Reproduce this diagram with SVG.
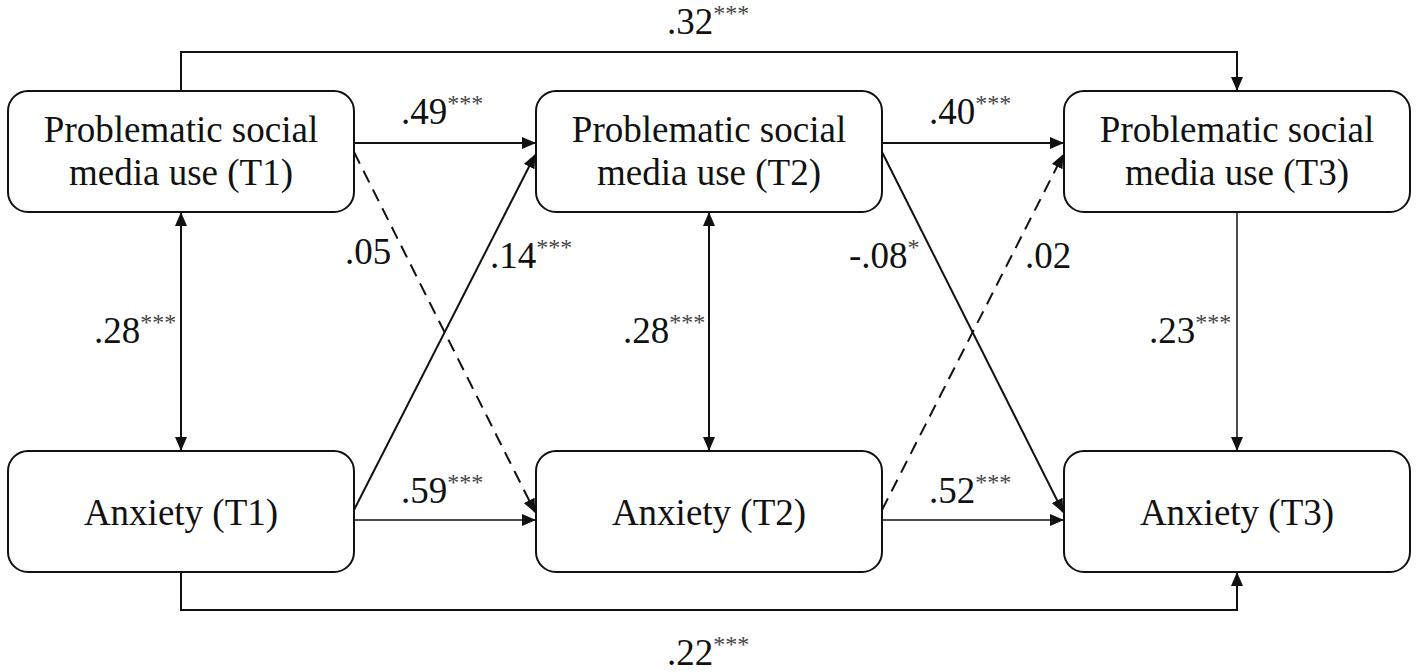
<svg xmlns="http://www.w3.org/2000/svg" width="1418" height="672" viewBox="0 0 1418 672">
<style>
.box{fill:#fff;stroke:#111;stroke-width:2}
.t{font-family:"Liberation Serif","Times New Roman",serif;font-size:37px;fill:#111;text-anchor:middle}
.l{font-family:"Liberation Serif","Times New Roman",serif;font-size:37px;fill:#111}
.s{font-size:24px;fill:#444}
.c{fill:none;stroke:#111;stroke-width:2}
.thin{stroke-width:1.5}
.d{stroke-dasharray:13 8}
</style>
<defs>
<marker id="ah" markerUnits="userSpaceOnUse" markerWidth="14" markerHeight="12" refX="13" refY="6" orient="auto-start-reverse" viewBox="0 0 14 12">
<path d="M0,0 L14,6 L0,12 Z" fill="#111"/>
</marker>
</defs>
<rect width="1418" height="672" fill="#fff"/>
<g id="connectors">
<path class="c" d="M181,91 V52 H1237 V90" marker-end="url(#ah)"/>
<path class="c" d="M181,572 V610 H1237 V573" marker-end="url(#ah)"/>
<line class="c" x1="181" y1="213" x2="181" y2="450" marker-start="url(#ah)" marker-end="url(#ah)"/>
<line class="c" x1="709" y1="213" x2="709" y2="450" marker-start="url(#ah)" marker-end="url(#ah)"/>
<line class="c thin" x1="1237" y1="212" x2="1237" y2="450" marker-end="url(#ah)"/>
<line class="c" x1="354" y1="143" x2="535" y2="143" marker-end="url(#ah)"/>
<line class="c" x1="882" y1="143" x2="1063" y2="143" marker-end="url(#ah)"/>
<line class="c thin" x1="354" y1="520" x2="535" y2="520" marker-end="url(#ah)"/>
<line class="c thin" x1="882" y1="520" x2="1063" y2="520" marker-end="url(#ah)"/>
<line class="c d" x1="354" y1="152" x2="535" y2="512" marker-end="url(#ah)"/>
<line class="c" x1="354" y1="510" x2="535" y2="155" marker-end="url(#ah)"/>
<line class="c" x1="882" y1="152" x2="1063" y2="512" marker-end="url(#ah)"/>
<line class="c d" x1="882" y1="510" x2="1063" y2="155" marker-end="url(#ah)"/>
</g>
<g id="labels">
<text class="l" x="667" y="34">.32<tspan class="s" dy="-13">***</tspan></text>
<text class="l" x="667" y="665">.22<tspan class="s" dy="-13">***</tspan></text>
<text class="l" x="401" y="124">.49<tspan class="s" dy="-13">***</tspan></text>
<text class="l" x="929" y="124">.40<tspan class="s" dy="-13">***</tspan></text>
<text class="l" x="401" y="503">.59<tspan class="s" dy="-13">***</tspan></text>
<text class="l" x="929" y="503">.52<tspan class="s" dy="-13">***</tspan></text>
<text class="l" x="94" y="343">.28<tspan class="s" dy="-13">***</tspan></text>
<text class="l" x="623" y="343">.28<tspan class="s" dy="-13">***</tspan></text>
<text class="l" x="1149" y="343">.23<tspan class="s" dy="-13">***</tspan></text>
<text class="l" x="345" y="264">.05</text>
<text class="l" x="490" y="268">.14<tspan class="s" dy="-13">***</tspan></text>
<text class="l" x="849" y="268">-.08<tspan class="s" dy="-13">*</tspan></text>
<text class="l" x="1025" y="268">.02</text>
</g>
<g id="psmu-t1">
<rect class="box" x="8" y="91" width="346" height="121" rx="20"/>
<text class="t" x="181" y="142">Problematic social</text>
<text class="t" x="181" y="185">media use (T1)</text>
</g>
<g id="psmu-t2">
<rect class="box" x="536" y="91" width="346" height="121" rx="20"/>
<text class="t" x="709" y="142">Problematic social</text>
<text class="t" x="709" y="185">media use (T2)</text>
</g>
<g id="psmu-t3">
<rect class="box" x="1064" y="91" width="346" height="121" rx="20"/>
<text class="t" x="1237" y="142">Problematic social</text>
<text class="t" x="1237" y="185">media use (T3)</text>
</g>
<g id="anx-t1">
<rect class="box" x="8" y="451" width="346" height="121" rx="20"/>
<text class="t" x="181" y="525">Anxiety (T1)</text>
</g>
<g id="anx-t2">
<rect class="box" x="536" y="451" width="346" height="121" rx="20"/>
<text class="t" x="709" y="525">Anxiety (T2)</text>
</g>
<g id="anx-t3">
<rect class="box" x="1064" y="451" width="346" height="121" rx="20"/>
<text class="t" x="1237" y="525">Anxiety (T3)</text>
</g>
</svg>
